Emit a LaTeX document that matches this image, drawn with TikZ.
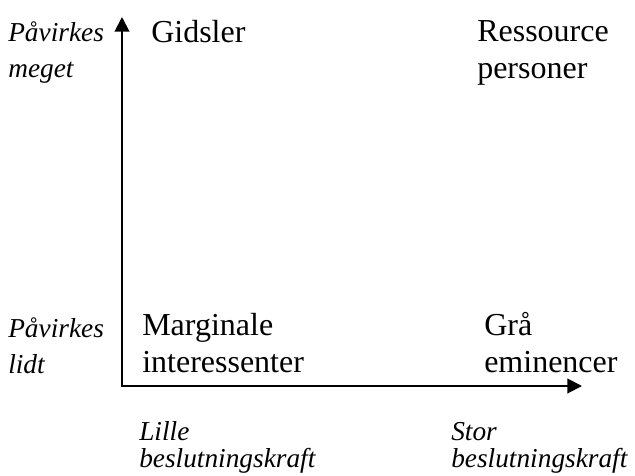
\documentclass[tikz,border=0pt]{standalone}
\usepackage{fontspec}
\setmainfont{Liberation Serif}
\usetikzlibrary{arrows.meta}

\begin{document}
\begin{tikzpicture}[x=0.75pt, y=-0.75pt,
    cell/.style={anchor=base west, inner sep=0pt, align=left, font=\fontsize{24}{27.5}\selectfont},
    side/.style={anchor=base west, inner sep=0pt, align=left, font=\itshape\fontsize{20.5}{27}\selectfont},
    foot/.style={anchor=base west, inner sep=0pt, align=left, font=\itshape\fontsize{20.5}{20}\selectfont}]
        \useasboundingbox (0,0) rectangle (635,475);

        % akser
        \coordinate (origo) at (122,386);
        \coordinate (ytop) at (122,17);
        \coordinate (xend) at (582,386);
        \draw[line width=1.5pt, {Triangle[length=11pt, width=11pt]}-{Triangle[length=11pt, width=11pt]}] (ytop) -- (origo) -- (xend);

        % y-aksen (base = sidste linje)
        \node[side] (meget) at (8,77) {Påvirkes\\meget};
        \node[side] (lidt) at (8,373) {Påvirkes\\lidt};

        % felter
        \node[cell] (gidsler) at (151,42) {Gidsler};
        \node[cell] (ressource) at (477,78) {Ressource\\personer};
        \node[cell] (marginale) at (142,372) {Marginale\\interessenter};
        \node[cell] (graa) at (484,372) {Grå\\eminencer};

        % x-aksen
        \node[foot] (lille) at (139,467) {Lille\\beslutningskraft};
        \node[foot] (stor) at (451,467) {Stor\\beslutningskraft};
    \end{tikzpicture}
\end{document}
